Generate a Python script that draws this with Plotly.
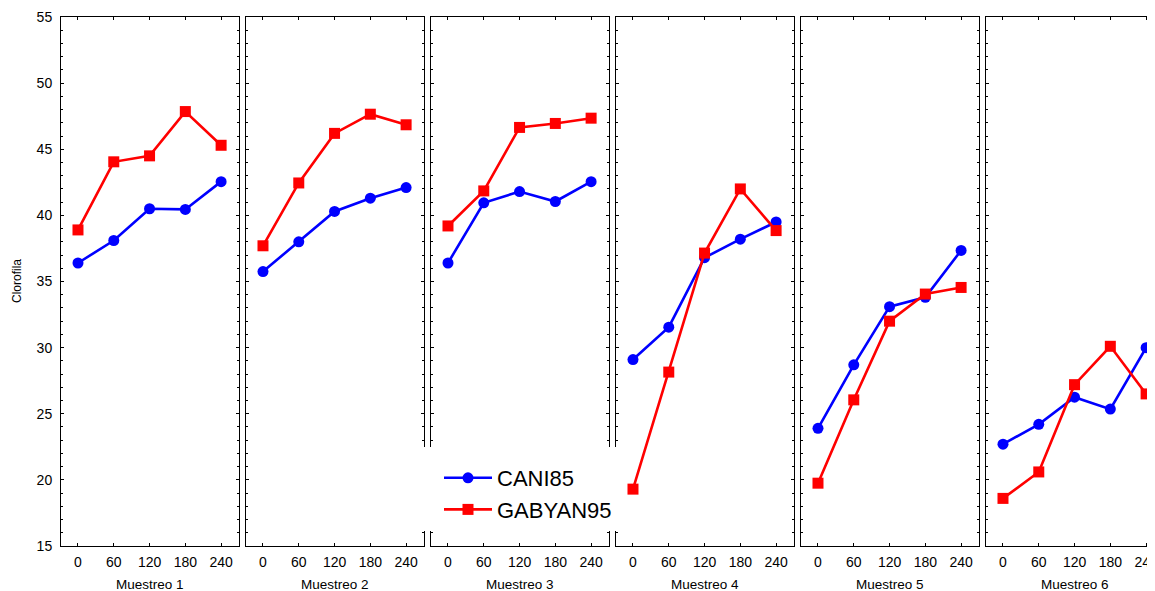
import plotly.graph_objects as go

# ---- data ----
x_vals = [0, 60, 120, 180, 240]
x_labels = ["0", "60", "120", "180", "240"]
panel_titles = ["Muestreo 1", "Muestreo 2", "Muestreo 3", "Muestreo 4", "Muestreo 5", "Muestreo 6"]
y_ticks = [15, 20, 25, 30, 35, 40, 45, 50, 55]

cani85_m1 = [36.4, 38.1, 40.5, 40.45, 42.55]
cani85_m2 = [35.75, 38.0, 40.3, 41.3, 42.1]
cani85_m3 = [36.4, 40.95, 41.8, 41.05, 42.55]
cani85_m4 = [29.1, 31.55, 36.8, 38.2, 39.5]
cani85_m5 = [23.9, 28.7, 33.1, 33.8, 37.35]
cani85_m6 = [22.7, 24.2, 26.25, 25.35, 30.0]

gabyan95_m1 = [38.9, 44.05, 44.5, 47.85, 45.3]
gabyan95_m2 = [37.7, 42.45, 46.2, 47.65, 46.85]
gabyan95_m3 = [39.2, 41.85, 46.65, 46.95, 47.35]
gabyan95_m4 = [19.3, 28.15, 37.15, 42.0, 38.85]
gabyan95_m5 = [19.75, 26.05, 32.0, 34.05, 34.55]
gabyan95_m6 = [18.6, 20.6, 27.2, 30.1, 26.5]

cani85 = [cani85_m1, cani85_m2, cani85_m3, cani85_m4, cani85_m5, cani85_m6]
gabyan95 = [gabyan95_m1, gabyan95_m2, gabyan95_m3, gabyan95_m4, gabyan95_m5, gabyan95_m6]

# ---- layout geometry (pixels; page body adds an 8px margin) ----
OFF = 8
W, H = 1155 - OFF, 591 - OFF
ML, MR, MT = 61 - OFF, 0, 17 - OFF
PLOT_BOTTOM = 546 - OFF
MB = H - PLOT_BOTTOM
PW = W - ML - MR
PH = H - MT - MB
panel_w = 178
panel_step = 185
FONT = "Liberation Sans, Arial, sans-serif"
BLUE = "#0000FF"
RED = "#FF0000"


def px_x(p):
    # p: x position in reference-screen pixels
    return (p - OFF - ML) / PW


def px_y(p):
    # p: y position in reference-screen pixels
    return (PLOT_BOTTOM - (p - OFF)) / PH


fig = go.Figure()
layout_axes = {}
for i in range(6):
    xa = "x" if i == 0 else f"x{i+1}"
    ya = "y" if i == 0 else f"y{i+1}"
    fig.add_trace(go.Scatter(
        x=x_vals, y=cani85[i], xaxis=xa, yaxis=ya, name="CANI85",
        mode="lines+markers", line=dict(color=BLUE, width=2.6),
        marker=dict(symbol="circle", size=11, color=BLUE),
        showlegend=(i == 0), legendgroup="a", cliponaxis=True))
    fig.add_trace(go.Scatter(
        x=x_vals, y=gabyan95[i], xaxis=xa, yaxis=ya, name="GABYAN95",
        mode="lines+markers", line=dict(color=RED, width=2.6),
        marker=dict(symbol="square", size=11, color=RED),
        showlegend=(i == 0), legendgroup="b", cliponaxis=True))

    left = 61 + i * panel_step          # reference pixels
    right = min(left + panel_w, 1155)
    width = right - left
    scale = panel_w / 298.5
    xr = [-28.5, -28.5 + width / scale]
    kx = "xaxis" if i == 0 else f"xaxis{i+1}"
    ky = "yaxis" if i == 0 else f"yaxis{i+1}"
    layout_axes[kx] = dict(
        domain=[max(px_x(left), 0), min(px_x(right), 1)], range=xr, anchor=ya,
        tickvals=x_vals, ticktext=x_labels, ticks="inside", ticklen=3,
        tickcolor="black", showline=True, linecolor="black", linewidth=1,
        mirror="ticks", showgrid=False, zeroline=False, fixedrange=True,
        tickfont=dict(family=FONT, size=14, color="black"),
        ticklabelstandoff=3, ticklabeloverflow="allow", automargin=False,
    )
    layout_axes[ky] = dict(
        domain=[0, 1], range=[15, 55], anchor=xa,
        tickvals=y_ticks, ticks="inside", ticklen=3, tickcolor="black",
        minor=dict(dtick=1, ticks="inside", ticklen=2, tickcolor="black", showgrid=False),
        showline=True, linecolor="black", linewidth=1,
        mirror=("ticks" if i < 5 else False), showgrid=False, zeroline=False,
        showticklabels=(i == 0), fixedrange=True, automargin=False,
        tickfont=dict(family=FONT, size=14, color="black"),
        ticklabelstandoff=5,
    )

annotations = []
for i in range(6):
    left = 61 + i * panel_step
    cx = left + panel_w / 2
    annotations.append(dict(
        text=panel_titles[i], xref="paper", yref="paper",
        x=px_x(cx), y=px_y(584), xanchor="center", yanchor="middle",
        showarrow=False, font=dict(family=FONT, size=13.5, color="black")))
annotations.append(dict(
    text="Clorofila", xref="paper", yref="paper", textangle=-90,
    x=px_x(17), y=px_y(281), xanchor="center", yanchor="middle",
    showarrow=False, font=dict(family=FONT, size=12, color="black")))

shapes = [dict(
    type="rect", xref="paper", yref="paper", layer="above",
    x0=px_x(418), x1=px_x(621), y0=px_y(531), y1=px_y(447),
    fillcolor="white", line=dict(width=0))]

fig.update_layout(
    width=W, height=H,
    margin=dict(l=ML, r=MR, t=MT, b=MB, pad=0, autoexpand=False),
    paper_bgcolor="white", plot_bgcolor="white",
    showlegend=True,
    legend=dict(
        x=px_x(439), y=px_y(457), xanchor="left", yanchor="top",
        bgcolor="rgba(0,0,0,0)", borderwidth=0,
        font=dict(family=FONT, size=22, color="black"),
        tracegroupgap=0, itemwidth=48),
    annotations=annotations, shapes=shapes,
    **layout_axes,
)

fig.write_html("out.html")
